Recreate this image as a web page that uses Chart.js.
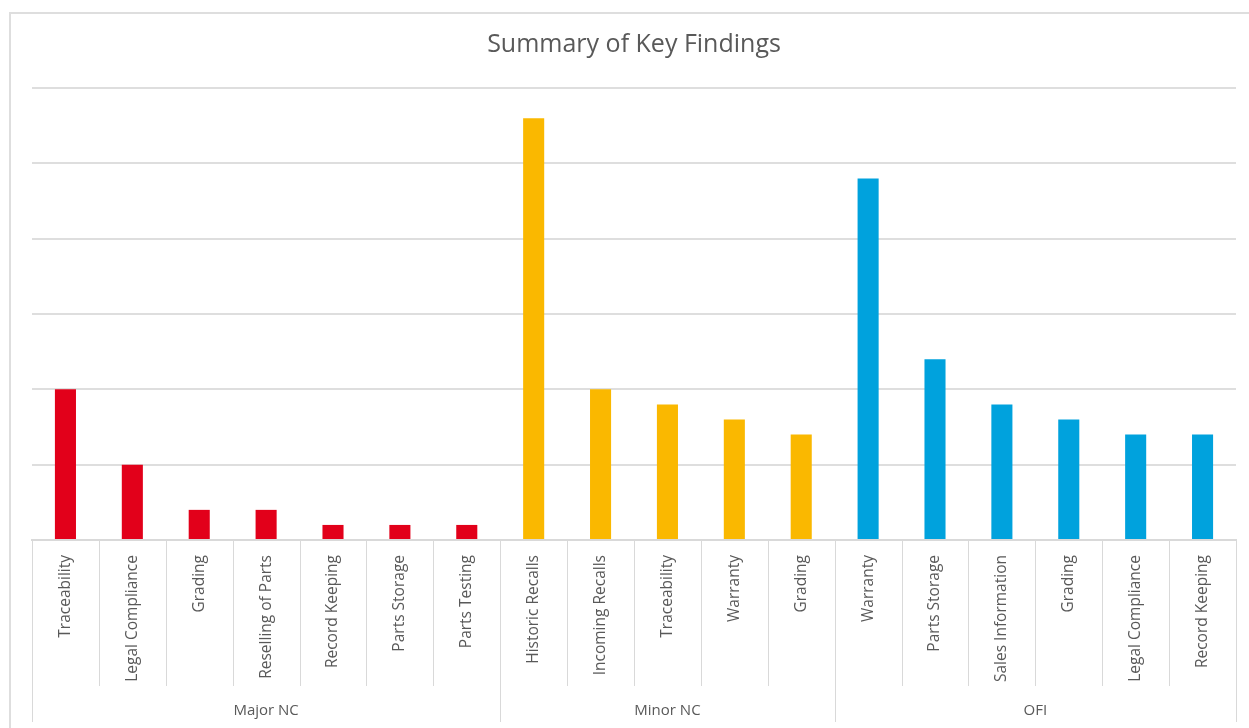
<!DOCTYPE html>
<html>
<head>
<meta charset="utf-8">
<script src="https://cdn.jsdelivr.net/npm/chart.js"></script>
<style>
  html, body { margin: 0; padding: 0; background: #fff; }
  #wrap { width: 1249px; height: 728px; }
</style>
</head>
<body>
<div id="wrap"><canvas id="myChart" width="1249" height="728"></canvas></div>
<script>
// chart data
const categories = [
  'Traceability', 'Legal Compliance', 'Grading', 'Reselling of Parts', 'Record Keeping', 'Parts Storage', 'Parts Testing',
  'Historic Recalls', 'Incoming Recalls', 'Traceability', 'Warranty', 'Grading',
  'Warranty', 'Parts Storage', 'Sales Information', 'Grading', 'Legal Compliance', 'Record Keeping'
];
const groupNames = ['Major NC', 'Minor NC', 'OFI'];
const groupSizes = [7, 5, 6];
const groupColors = ['#E2001A', '#FAB800', '#00A2DD'];
const values = [10, 5, 2, 2, 1, 1, 1, 28, 10, 9, 8, 7, 24, 12, 9, 8, 7, 7];
const yMax = 30;
const yStep = 5;

// colour each bar by the group it belongs to
const barColors = [];
groupSizes.forEach((n, g) => {
  for (let i = 0; i < n; i++) barColors.push(groupColors[g]);
});

const textColor = '#595959';
const lineColor = '#d9d9d9';

// outer frame, category separators and group labels under the axis
const groupAxisPlugin = {
  id: 'groupAxis',
  beforeDraw(chart) {
    const ctx = chart.ctx;
    ctx.save();
    ctx.strokeStyle = '#dedede';
    ctx.lineWidth = 2;
    ctx.strokeRect(10, 13, 1400, 900);
    ctx.restore();
  },
  afterDraw(chart) {
    const ctx = chart.ctx;
    const x = chart.scales.x;
    const area = chart.chartArea;
    const half = (x.getPixelForValue(1) - x.getPixelForValue(0)) / 2;
    const boundaries = [0];
    groupSizes.reduce((acc, n) => { boundaries.push(acc + n); return acc + n; }, 0);

    ctx.save();
    ctx.strokeStyle = lineColor;
    ctx.lineWidth = 1;
    for (let i = 0; i <= categories.length; i++) {
      const px = Math.round(x.getPixelForValue(i) - half) + 0.5;
      const isGroupEdge = boundaries.includes(i);
      ctx.beginPath();
      ctx.moveTo(px, area.bottom);
      ctx.lineTo(px, isGroupEdge ? 722 : 686);
      ctx.stroke();
    }

    ctx.fillStyle = textColor;
    ctx.font = '15px "Open Sans"';
    ctx.textAlign = 'center';
    ctx.textBaseline = 'middle';
    groupNames.forEach((name, g) => {
      const a = x.getPixelForValue(boundaries[g]) - half;
      const b = x.getPixelForValue(boundaries[g + 1]) - half;
      ctx.fillText(name, (a + b) / 2, 711);
    });
    ctx.restore();
  }
};

const ctx = document.getElementById('myChart').getContext('2d');
const chart = new Chart(ctx, {
  type: 'bar',
  data: {
    labels: categories,
    datasets: [{
      data: values,
      backgroundColor: barColors,
      categoryPercentage: 1,
      barPercentage: 0.315
    }]
  },
  options: {
    responsive: false,
    animation: false,
    events: [],
    layout: { padding: { left: 32, right: 13, top: 0, bottom: 0 } },
    plugins: {
      legend: { display: false },
      tooltip: { enabled: false },
      title: {
        display: true,
        text: 'Summary of Key Findings',
        color: textColor,
        font: { family: '"Open Sans"', size: 25, weight: 'normal', lineHeight: 1.2 },
        padding: { top: 30, bottom: 28 }
      }
    },
    scales: {
      x: {
        grid: { display: false },
        border: { display: true, color: lineColor, width: 2 },
        ticks: {
          color: textColor,
          font: { family: '"Open Sans"', size: 15.5 },
          autoSkip: false,
          minRotation: 90,
          maxRotation: 90,
          padding: 7
        },
        afterFit(scale) { scale.height = 188; }
      },
      y: {
        min: 0,
        max: yMax,
        ticks: { display: false, stepSize: yStep },
        grid: { color: '#dedede', lineWidth: 2, drawTicks: false },
        border: { display: false },
        afterFit(scale) { scale.width = 0; }
      }
    }
  },
  plugins: [groupAxisPlugin]
});
</script>
</body>
</html>
